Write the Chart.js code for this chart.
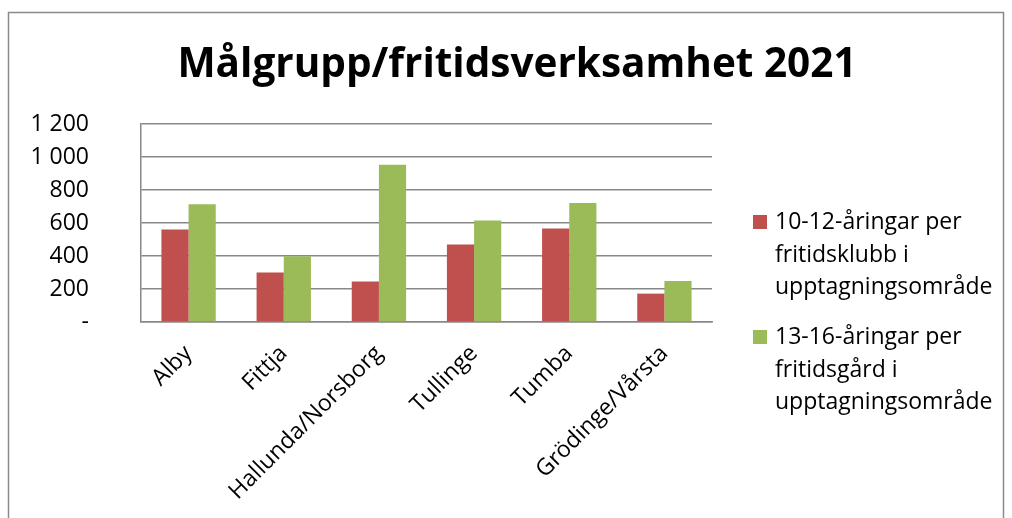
<!DOCTYPE html>
<html><head><meta charset="utf-8">
<script src="https://cdn.jsdelivr.net/npm/chart.js@4.4.1/dist/chart.umd.min.js"></script>
<style>html,body{margin:0;padding:0;background:#fff}#w{width:1012px;height:518px;position:relative}canvas{display:block}</style>
</head><body><div id="w"><canvas id="c" width="1012" height="518"></canvas></div>
<script>
const titleText = "Målgrupp/fritidsverksamhet 2021";
const categories = ["Alby","Fittja","Hallunda/Norsborg","Tullinge","Tumba","Grödinge/Vårsta"];
const series1Label = ["10-12-åringar per","fritidsklubb i","upptagningsområde"];
const series2Label = ["13-16-åringar per","fritidsgård i","upptagningsområde"];
const series1 = [561,300,245,470,567,172];
const series2 = [713,399,953,615,721,249];
const yTickValues = [0,200,400,600,800,1000,1200];
const yTickLabels = ["-","200","400","600","800","1 000","1 200"];
const colors = ["#C0504D","#9BBB59"];

const FONT = "'Open Sans', sans-serif";

const frame = {
  id:'frame',
  beforeDraw(chart){
    const c = chart.ctx;
    c.save();
    c.fillStyle='#fff'; c.fillRect(0,0,chart.width,chart.height);
    c.strokeStyle='#8a8a8a'; c.lineWidth=1.5;
    c.strokeRect(8.5,12.5,995,540);
    c.fillStyle='#000';
    c.font = "bold 40.5px " + FONT;
    c.textAlign='center'; c.textBaseline='alphabetic';
    c.fillText(titleText, 517, 77);
    c.restore();
  },
  afterDraw(chart){
    const c = chart.ctx;
    c.save();
    c.font = "23px " + FONT;
    c.textBaseline='alphabetic'; c.textAlign='left';
    const items = [{lines:series1Label, y:229},{lines:series2Label, y:344}];
    items.forEach((it,i)=>{
      c.fillStyle = chart.data.datasets[i].backgroundColor;
      c.fillRect(753, it.y-14, 14, 14);
      c.fillStyle = '#000';
      it.lines.forEach((ln,j)=> c.fillText(ln, 775, it.y + j*32.5));
    });
    c.restore();
  }
};

new Chart(document.getElementById('c'), {
  type:'bar',
  data:{
    labels: categories,
    datasets:[
      {label: series1Label.join(' '), data: series1, backgroundColor: colors[0]},
      {label: series2Label.join(' '), data: series2, backgroundColor: colors[1]}
    ]
  },
  options:{
    responsive:false, devicePixelRatio:1, animation:false,
    layout:{padding:{left:0, top:124, right:300, bottom:0}},
    plugins:{legend:{display:false}, title:{display:false}, tooltip:{enabled:false}},
    datasets:{bar:{categoryPercentage:0.571, barPercentage:1.0}},
    scales:{
      x:{
        grid:{display:false, drawTicks:false},
        border:{display:true, color:'#888', width:1.5},
        ticks:{color:'#000', font:{family:FONT, size:23}, minRotation:45, maxRotation:45, padding:18, labelOffset:0, autoSkip:false},
        afterFit(s){ s.height = 196; }
      },
      y:{
        min:0, max:1200,
        afterBuildTicks(s){ s.ticks = yTickValues.map(v=>({value:v})); },
        grid:{color:'#888', lineWidth:1.5, drawTicks:false},
        border:{display:true, color:'#888', width:1.5},
        ticks:{color:'#000', font:{family:FONT, size:23}, padding:52,
          callback(v){ const i = yTickValues.indexOf(v); return i>=0 ? yTickLabels[i] : ''; }},
        afterFit(s){ s.width = 141; }
      }
    }
  },
  plugins:[frame]
});
</script>
</body></html>
